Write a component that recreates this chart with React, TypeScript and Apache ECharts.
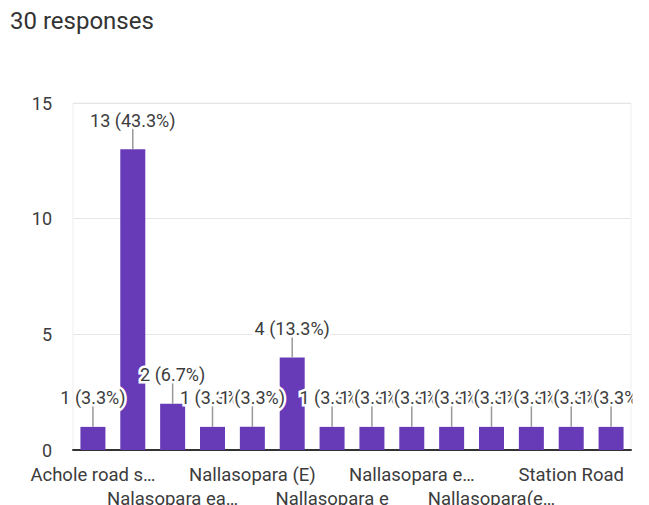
import React, { useEffect, useRef } from "react";
import * as echarts from "echarts";

const titleText = "30 responses";
const categories = [
  "Achole road s…",
  "Nalasopara",
  "Nalasopara ea…",
  "Nalasopara east",
  "Nallasopara (E)",
  "Nallasopara East",
  "Nallasopara e",
  "Nallasopara east",
  "Nallasopara e…",
  "Nallasopara west",
  "Nallasopara(e…",
  "Nallasopara(east)",
  "Station Road",
  "Tulinj Road",
];
const values = [1, 13, 2, 1, 1, 4, 1, 1, 1, 1, 1, 1, 1, 1];
const yTicks = { min: 0, max: 15, interval: 5 };

const FONT = "Roboto, 'Noto Sans', sans-serif";
const TEXT = "#3c3c3c";

export default function App() {
  const ref = useRef<HTMLDivElement>(null);
  useEffect(() => {
    if (!ref.current) return;
    const chart = echarts.init(ref.current, null, { renderer: "svg" });
    const total = values.reduce((a, b) => a + b, 0);
    const labelBase = {
      fontSize: 18.5,
      color: TEXT,
      fontFamily: FONT,
    };
    chart.setOption({
      animation: false,
      title: {
        text: titleText,
        left: 5,
        top: 4,
        textStyle: { fontSize: 24, fontWeight: "normal", color: "#333", fontFamily: FONT },
      },
      grid: {
        left: 73,
        right: 18,
        top: 103,
        bottom: 55,
        show: true,
        borderColor: "#eeeeee",
        borderWidth: 1,
        containLabel: false,
        outerBoundsMode: "none",
      },
      xAxis: [
        {
          type: "category",
          data: categories,
          axisLine: { show: true, lineStyle: { color: "#333", width: 2 } },
          axisTick: { show: false },
          axisLabel: {
            ...labelBase,
            interval: (i: number) => i % 4 === 0,
            showMinLabel: true,
            margin: 15,
          },
        },
        {
          type: "category",
          data: categories,
          position: "bottom",
          offset: 24,
          axisLine: { show: false },
          axisTick: { show: false },
          splitLine: { show: false },
          axisLabel: {
            ...labelBase,
            interval: (i: number) => i % 4 === 2,
            margin: 15,
          },
        },
      ],
      yAxis: {
        type: "value",
        min: yTicks.min,
        max: yTicks.max,
        interval: yTicks.interval,
        axisLine: { show: false },
        axisTick: { show: false },
        splitLine: { lineStyle: { color: "#e6e6e6", width: 1 } },
        axisLabel: { fontSize: 18, color: TEXT, fontFamily: FONT, margin: 21 },
      },
      graphic: [
        {
          type: "rect",
          z: 100,
          shape: { x: 632.5, y: 360, width: 20, height: 50 },
          style: { fill: "#fff" },
        },
      ],
      series: [
        {
          type: "bar",
          data: values,
          barWidth: 25,
          itemStyle: { color: "#673ab7" },
          z: 2,
        },
        {
          type: "custom",
          z: 5,
          clip: false,
          data: values.map((v, i) => [i, v]),
          renderItem: (params: any, api: any) => {
            const idx = api.value(0);
            const v = api.value(1);
            const p = api.coord([idx, v]);
            const pct = ((v / total) * 100).toFixed(1);
            return {
              type: "group",
              children: [
                {
                  type: "line",
                  shape: { x1: p[0], y1: p[1], x2: p[0], y2: p[1] - 21 },
                  style: { stroke: "#999", lineWidth: 1.5 },
                },
                {
                  type: "text",
                  x: p[0],
                  y: p[1] - 29,
                  style: {
                    text: `${v} (${pct}%)`,
                    align: "center",
                    verticalAlign: "middle",
                    fontSize: 18,
                    fontFamily: FONT,
                    fill: TEXT,
                    stroke: "#fff",
                    lineWidth: 5,
                  },
                },
              ],
            };
          },
        },
      ],
    });
    return () => chart.dispose();
  }, []);
  return <div ref={ref} style={{ width: 649, height: 505, position: "absolute", left: 0, top: 0 }} />;
}
